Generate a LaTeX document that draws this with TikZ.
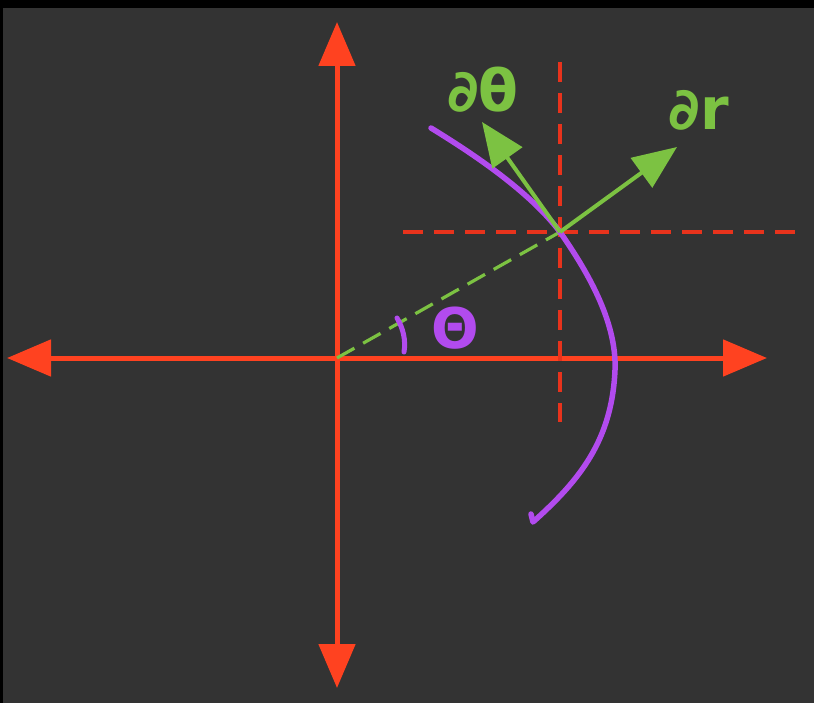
\documentclass[tikz,border=0pt]{standalone}
\usepackage{fontspec}
\newfontfamily\lblfont{DejaVu Sans}
\usetikzlibrary{arrows.meta}
\definecolor{bgc}{HTML}{333333}
\definecolor{axred}{HTML}{FF4220}
\definecolor{dashred}{HTML}{E8331C}
\definecolor{grn}{HTML}{7CC242}
\definecolor{purp}{HTML}{B24BEE}
\tikzset{
  axis/.style={draw=axred,line width=5pt,-{Triangle[length=44pt,width=36pt]}},
  reddash/.style={draw=dashred,line width=3.5pt,dash pattern=on 20pt off 11pt},
  greendash/.style={draw=grn,line width=3.2pt,dash pattern=on 20pt off 10pt},
  vec/.style={draw=grn,fill=grn,line width=4pt,-{Triangle[length=44pt,width=36pt]}},
  curve/.style={draw=purp,line width=5.5pt,line cap=round,line join=round},
  glabel/.style={text=grn,font=\lblfont\bfseries\fontsize{58}{60}\selectfont,inner sep=0pt},
  plabel/.style={text=purp,font=\lblfont\bfseries\fontsize{56}{58}\selectfont,inner sep=0pt}
}
\begin{document}
\begin{tikzpicture}[x=1pt,y=-1pt]
\fill[black] (0,0) rectangle (814,703);
\fill[bgc] (3,8) rectangle (814,703);
\useasboundingbox (0,0) rectangle (814,703);
% coordinates
\coordinate (O) at (337,358);
\coordinate (R) at (767,358);
\coordinate (L) at (7,358);
\coordinate (U) at (337,22);
\coordinate (D) at (337,688);
\coordinate (P) at (560,232);
\coordinate (VT) at (560,62);
\coordinate (VB) at (560,422);
\coordinate (HL) at (403,232);
\coordinate (HR) at (802,232);
\coordinate (Tr) at (677,147);
\coordinate (Tt) at (482,122);
% axes
\draw[axis] (O) -- (R);
\draw[axis] (O) -- (L);
\draw[axis] (O) -- (U);
\draw[axis] (O) -- (D);
% dashed guide lines
\draw[reddash] (VT) -- (VB);
\draw[reddash] (HL) -- (HR);
\draw[greendash] (O) -- (P);
% purple curve
\draw[curve] (431,128) .. controls (475,155) and (530,192) .. (P)
  .. controls (585,268) and (617,320) .. (615,370)
  .. controls (612,440) and (580,480) .. (533,522)
  -- (531,514);
% angle mark
\draw[curve,line width=5pt] (404,352) .. controls (406,340) and (403,328) .. (397,318);
% vectors
\draw[vec] (P) -- (Tr);
\draw[vec] (P) -- (Tt);
% labels
\node[glabel] (lt) at (483,90) {∂θ};
\node[glabel] (lr) at (699,110) {∂r};
\node[plabel] (th) at (455,328) {Θ};
\end{tikzpicture}
\end{document}
